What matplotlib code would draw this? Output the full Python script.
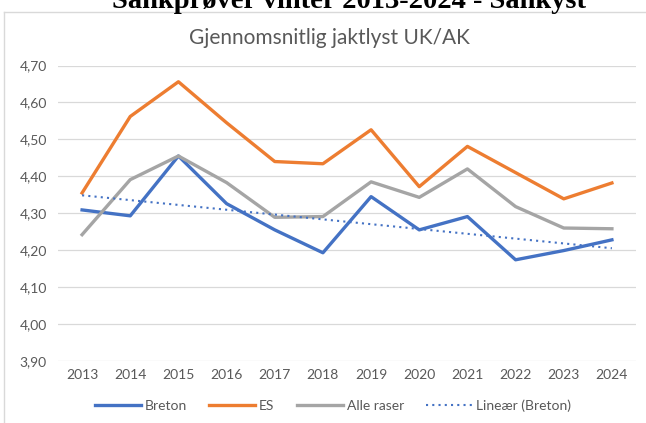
import numpy as np
import matplotlib.pyplot as plt
from matplotlib.lines import Line2D

plt.rcParams['font.family'] = ['Lato', 'DejaVu Sans']

# Data
years = [2013, 2014, 2015, 2016, 2017, 2018, 2019, 2020, 2021, 2022, 2023, 2024]
breton = [4.309, 4.293, 4.455, 4.326, 4.255, 4.193, 4.345, 4.255, 4.291, 4.174, 4.199, 4.228]
es = [4.355, 4.562, 4.656, 4.545, 4.440, 4.434, 4.526, 4.372, 4.481, 4.410, 4.339, 4.382]
alle = [4.242, 4.391, 4.455, 4.383, 4.289, 4.291, 4.385, 4.343, 4.420, 4.318, 4.260, 4.258]
yticks = [3.90, 4.00, 4.10, 4.20, 4.30, 4.40, 4.50, 4.60, 4.70]

# heading of the document above the chart (only the bottom is visible)
heading = 'Sankprøver vinter 2013-2024 - Sankyst'

# Linear trend of Breton
coef = np.polyfit(years, breton, 1)
trend = np.polyval(coef, years)

fig = plt.figure(figsize=(6.46, 4.23), dpi=100)
ax = fig.add_axes([58/646, 1 - 361/423, (636 - 58)/646, (361 - 65.5)/423])

blue = '#4472C4'
orange = '#ED7D31'
gray = '#A5A5A5'
txt = '#595959'

ax.plot(years, breton, color=blue, lw=2.4, label='Breton')
ax.plot(years, es, color=orange, lw=2.4, label='ES')
ax.plot(years, alle, color=gray, lw=2.4, label='Alle raser')
ax.plot(years, trend, color=blue, lw=1.5, ls=(0, (1, 2)), label='Lineær (Breton)')

ax.set_xlim(2012.5, 2024.5)
ax.set_ylim(3.90, 4.70)
ax.set_yticks(yticks)
ax.set_yticklabels([f'{v:.2f}'.replace('.', ',') for v in yticks])
ax.set_xticks(years)
ax.grid(axis='y', color='#D9D9D9', lw=0.9)
ax.set_axisbelow(True)
for s in ax.spines.values():
    s.set_visible(False)
ax.tick_params(length=0, colors=txt, labelsize=10)
ax.tick_params(axis='y', pad=8)
ax.tick_params(axis='x', pad=6)

fig.text(329/646, 1 - 38/423, 'Gjennomsnitlig jaktlyst UK/AK', ha='center', va='center',
         fontsize=15, color=txt)

fig.legend(loc='center', bbox_to_anchor=(333/646, 1 - 406/423), ncol=4, frameon=False,
           fontsize=10, handlelength=3.3, columnspacing=1.6, handletextpad=0.3,
           labelcolor=txt)

# Cut-off document heading above the chart
fig.text(112/646, 1 - 8.5/423, heading, ha='left', va='baseline',
         fontsize=20.5, fontweight='bold', family='Liberation Serif', color='black')

# Chart frame
fig.add_artist(Line2D([4/646, 1], [1 - 12.5/423, 1 - 12.5/423], color='#D9D9D9', lw=1))
fig.add_artist(Line2D([4/646, 4/646], [0, 1 - 12.5/423], color='#D9D9D9', lw=1))

fig.savefig('out.png', dpi=100)
